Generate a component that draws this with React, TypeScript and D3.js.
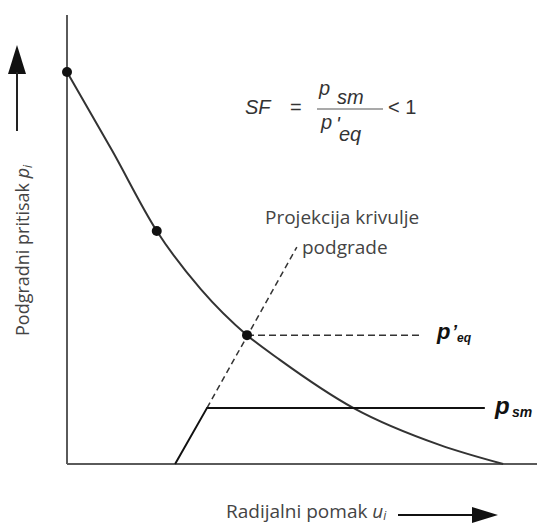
import React from 'react';
import * as d3 from 'd3';

// ground reaction curve (radial displacement u, support pressure p)
const curveU = [0, 9.6, 19.1, 28.5, 38.3, 45.3, 60.9, 79.4, 92.8];
const curveP = [87.3, 69.8, 51.9, 38.9, 28.7, 23.2, 12.5, 4.2, 0];

// marked points on the curve
const markU = [0, 19.1, 38.3];
const markP = [87.3, 51.9, 28.7];

// support characteristic line
const supportU = [23.0, 29.8, 88.9];
const supportP = [0, 12.5, 12.5];

// projection of the support line (dashed)
const projU = [29.8, 48.9];
const projP = [12.5, 48.3];

// equilibrium pressure line (dashed)
const eqU = [38.3, 75.5];
const eqP = [28.7, 28.7];

const W = 537;
const H = 525;

const App: React.FC = () => {
  const x = d3.scaleLinear().domain([0, 100]).range([67, 537]);
  const y = d3.scaleLinear().domain([0, 100]).range([464, 15]);

  const line = d3.line<[number, number]>()
    .x(d => x(d[0]))
    .y(d => y(d[1]));

  const curve = d3.line<[number, number]>()
    .x(d => x(d[0]))
    .y(d => y(d[1]))
    .curve(d3.curveMonotoneX);

  const zip = (a: number[], b: number[]) => a.map((v, i) => [v, b[i]] as [number, number]);

  const sans = "'Open Sans', sans-serif";
  const arial = "'Liberation Sans', Arial, sans-serif";

  return (
    <div style={{ position: 'fixed', left: 0, top: 0 }}>
      <svg width={W} height={H} style={{ display: 'block', background: '#fff' }}>
        {/* axes */}
        <line x1={x(0)} y1={y(100)} x2={x(0)} y2={y(0)} stroke="#5a5a5a" strokeWidth={2} />
        <line x1={x(0)} y1={y(0)} x2={x(100)} y2={y(0)} stroke="#5a5a5a" strokeWidth={2} />

        {/* ground reaction curve */}
        <path d={curve(zip(curveU, curveP)) || ''} fill="none" stroke="#333" strokeWidth={2} />

        {/* dashed lines */}
        <path d={line(zip(projU, projP)) || ''} fill="none" stroke="#333" strokeWidth={1.5} strokeDasharray="6,4" />
        <path d={line(zip(eqU, eqP)) || ''} fill="none" stroke="#333" strokeWidth={1.5} strokeDasharray="7,4" />

        {/* support line */}
        <path d={line(zip(supportU, supportP)) || ''} fill="none" stroke="#111" strokeWidth={2} />

        {markU.map((u, i) => (
          <circle key={i} cx={x(u)} cy={y(markP[i])} r={5} fill="#111" />
        ))}

        {/* y label + arrow */}
        <polygon points="17,45 8,74 26,74" fill="#111" />
        <line x1={17} y1={72} x2={17} y2={131} stroke="#222" strokeWidth={2} />
        <text transform="translate(29,336) rotate(-90)" fontFamily={sans} fontSize={18} fill="#444">
          Podgradni pritisak <tspan fontStyle="italic">p</tspan>
          <tspan fontStyle="italic" fontSize={12} dy={3}>i</tspan>
        </text>

        {/* x label + arrow */}
        <text x={226} y={518} fontFamily={sans} fontSize={19} fill="#444">
          Radijalni pomak <tspan fontStyle="italic">u</tspan>
          <tspan fontStyle="italic" fontSize={12} dy={2}>i</tspan>
        </text>
        <line x1={398} y1={515} x2={476} y2={515} stroke="#111" strokeWidth={2} />
        <polygon points="498,515 472,507 472,523" fill="#111" />

        {/* projection label */}
        <text fontFamily={sans} fontSize={19} fill="#444">
          <tspan x={265} y={224}>Projekcija krivulje</tspan>
          <tspan x={302} y={254}>podgrade</tspan>
        </text>

        {/* p'eq label */}
        <g fontFamily={arial} fontWeight="bold" fontStyle="italic" fill="#111">
          <text x={437} y={339} fontSize={22}>p</text>
          <text x={452} y={338} fontSize={18}>’</text>
          <text x={457} y={342} fontSize={12}>eq</text>
        </g>

        {/* p_sm label */}
        <g fontFamily={arial} fontWeight="bold" fontStyle="italic" fill="#111">
          <text x={495} y={414} fontSize={24}>p</text>
          <text x={512} y={417} fontSize={14}>sm</text>
        </g>

        {/* formula */}
        <g fontFamily={arial} fontSize={20} fill="#333">
          <text x={245} y={114} fontStyle="italic">SF</text>
          <text x={290} y={114}>=</text>
          <text x={319} y={95} fontStyle="italic">p</text>
          <text x={337} y={104} fontStyle="italic">sm</text>
          <line x1={317} y1={109} x2={383} y2={109} stroke="#555" strokeWidth={1.2} />
          <text x={321} y={129} fontStyle="italic">p</text>
          <text x={336} y={131} fontStyle="italic">'</text>
          <text x={339} y={141} fontStyle="italic">eq</text>
          <text x={388} y={114}>&lt; 1</text>
        </g>
      </svg>
    </div>
  );
};

export default App;
